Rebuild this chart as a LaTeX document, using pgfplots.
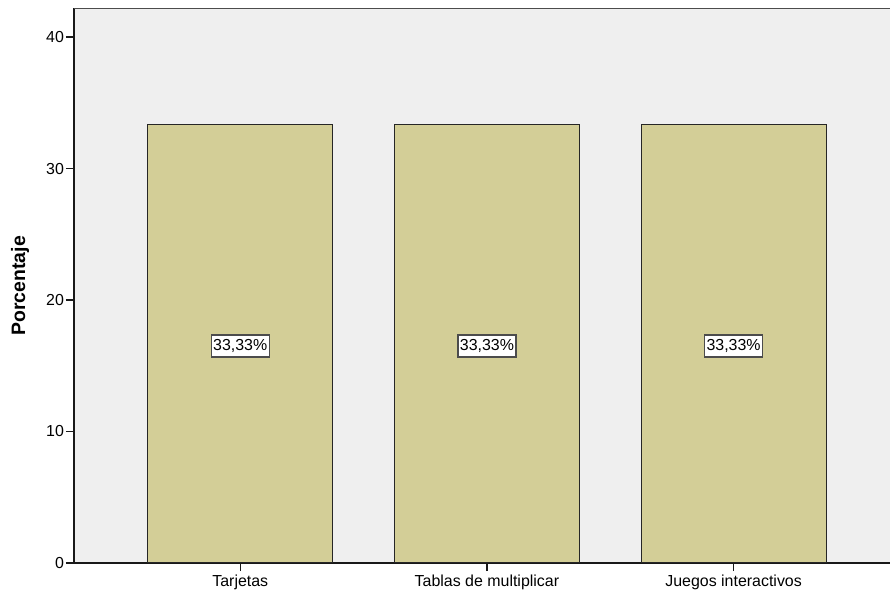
\documentclass[border=0pt]{standalone}
\usepackage{fontspec}
\setmainfont{Liberation Sans}
\usepackage{pgfplots}
\pgfplotsset{compat=1.18}
\definecolor{bgc}{RGB}{239,239,239}
\definecolor{barc}{RGB}{211,206,151}
\begin{document}
\begin{tikzpicture}
\begin{axis}[
 scale only axis, width=816bp, height=554.5bp,
 xmin=-0.674, xmax=2.634, ymin=0, ymax=42.17,
 axis background/.style={fill=bgc},
 axis x line*=bottom, axis y line*=left,
 axis line style={line width=1.3bp, black!90},
 xtick={0,1,2},
 xticklabels={Tarjetas, Tablas de multiplicar, Juegos interactivos},
 ytick={0,10,20,30,40},
 tick align=outside, major tick length=8bp,
 tick style={line width=1.3bp, black!90},
 ticklabel style={font=\fontsize{16}{19}\selectfont},
 yticklabel style={xshift=1.5bp},
 /pgf/number format/assume math mode=true,
 ylabel={Porcentaje},
 every axis y label/.style={at={(axis description cs:-0.066,0.5)}, rotate=90, anchor=center, font=\bfseries\fontsize{19.5}{23}\selectfont},
]
\addplot[ybar, bar width=0.75, fill=barc, draw=black!85, line width=1.1bp] coordinates {(0,33.33) (1,33.33) (2,33.33)};
\addplot[draw=none, mark=none, nodes near coords, point meta=explicit symbolic,
 every node near coord/.append style={anchor=center, fill=white, draw=black!70, line width=1.3bp, inner xsep=2bp, inner ysep=4.5bp, font=\fontsize{16}{19}\selectfont}]
 coordinates {(0,16.5) [33,33\%] (1,16.5) [33,33\%] (2,16.5) [33,33\%]};
\draw[line width=1.6bp, black!70] (rel axis cs:0,1) -- (rel axis cs:1,1);
\coordinate (bbA) at (rel axis cs:0,0);
\coordinate (bbB) at (rel axis cs:1,1);
\end{axis}
\pgfresetboundingbox
\path[use as bounding box] ([shift={(-74bp,-32bp)}]bbA) rectangle ([shift={(0bp,8.5bp)}]bbB);
\end{tikzpicture}
\end{document}
